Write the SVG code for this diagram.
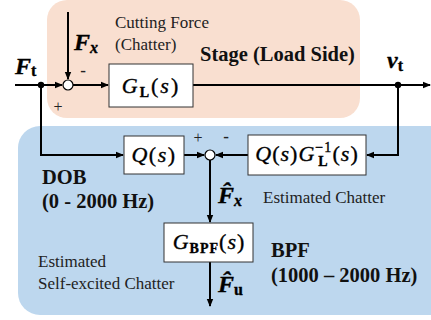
<svg xmlns="http://www.w3.org/2000/svg" width="431" height="320" viewBox="0 0 431 320">
<style>
text{font-family:'Liberation Serif','Times New Roman','DejaVu Serif',serif}
.ln{fill:none;stroke:#000;stroke-width:2}
.box{fill:#fff;stroke:#333;stroke-width:1}
.t{fill:#222}
.b{font-weight:bold;fill:#111}
.m{fill:#000;stroke:#000;stroke-width:0.35}
.i{font-style:italic}
.sub{font-weight:bold;font-style:normal}
</style>
<defs>
<marker id="ah" markerWidth="8" markerHeight="8" refX="7" refY="4" orient="auto" markerUnits="userSpaceOnUse">
<path d="M0,0.8 L8,4 L0,7.2 Z" fill="#000"/>
</marker>
</defs>
<rect x="47" y="0" width="313" height="118" rx="20" fill="#F9DFD0"/>
<rect x="18" y="126" width="435" height="189" rx="22" fill="#BDD7EE"/>
<g id="connectors">
<path class="ln" d="M15,85 H62" marker-end="url(#ah)"/>
<path class="ln" d="M68,12 V79" marker-end="url(#ah)"/>
<path class="ln" d="M73,85 H108" marker-end="url(#ah)"/>
<path class="ln" d="M193,85 H430" marker-end="url(#ah)"/>
<path class="ln" d="M41,85 V155 H123" marker-end="url(#ah)"/>
<path class="ln" d="M398,85 V155 H367" marker-end="url(#ah)"/>
<path class="ln" d="M184,155 H204" marker-end="url(#ah)"/>
<path class="ln" d="M248,155 H216" marker-end="url(#ah)"/>
<path class="ln" d="M210,160 V222" marker-end="url(#ah)"/>
<path class="ln" d="M210,262 V306" marker-end="url(#ah)"/>
<circle cx="41" cy="85" r="3.2" fill="#000"/>
<circle cx="398" cy="85" r="3.2" fill="#000"/>
</g>
<g id="sum1">
<circle cx="68" cy="85" r="5" fill="#fff" stroke="#000" stroke-width="1.2"/>
<text class="t" x="83" y="76" font-size="17" font-weight="bold" text-anchor="middle">-</text>
<text class="t" x="58" y="112" font-size="16" text-anchor="middle">+</text>
</g>
<g id="sum2">
<circle cx="210" cy="155" r="5" fill="#fff" stroke="#000" stroke-width="1.2"/>
<text class="t" x="198" y="143" font-size="16" text-anchor="middle">+</text>
<text class="t" x="226" y="142" font-size="17" font-weight="bold" text-anchor="middle">-</text>
</g>
<g id="GL">
<rect class="box" x="109" y="64" width="84" height="43"/>
<text class="m" x="151" y="93" font-size="22" text-anchor="middle" letter-spacing="2"><tspan class="i">G</tspan><tspan class="sub" font-size="14" dy="4">L</tspan><tspan dy="-4">(</tspan><tspan class="i">s</tspan>)</text>
</g>
<g id="Q">
<rect class="box" x="124" y="136" width="60" height="38"/>
<text class="m" x="154" y="162" font-size="22" text-anchor="middle" letter-spacing="1.5"><tspan class="i">Q</tspan>(<tspan class="i">s</tspan>)</text>
</g>
<g id="QGinv">
<rect class="box" x="248" y="135" width="118" height="40"/>
<text class="m" x="307" y="161" font-size="22" text-anchor="middle" letter-spacing="1"><tspan class="i">Q</tspan>(<tspan class="i">s</tspan>)<tspan class="i">G</tspan><tspan font-size="14" dy="-9">−1</tspan><tspan class="sub" font-size="14" dx="-14" dy="14">L</tspan><tspan dy="-5" dx="4">(</tspan><tspan class="i">s</tspan>)</text>
</g>
<g id="GBPF">
<rect class="box" x="164" y="223" width="89" height="39"/>
<text class="m" x="209" y="249" font-size="22" text-anchor="middle" letter-spacing="1"><tspan class="i">G</tspan><tspan class="sub" font-size="14" dy="4">BPF</tspan><tspan dy="-4">(</tspan><tspan class="i">s</tspan>)</text>
</g>
<g id="labels">
<text class="m" x="15" y="74" font-size="24"><tspan class="i" font-weight="bold">F</tspan><tspan class="sub" font-size="16" dy="2">t</tspan></text>
<text class="m" x="74" y="50" font-size="24"><tspan class="i" font-weight="bold">F</tspan><tspan class="i" font-weight="bold" font-size="16" dy="3">x</tspan></text>
<text class="m" x="387" y="68" font-size="24"><tspan class="i" font-weight="bold">v</tspan><tspan class="sub" font-size="16" dy="3">t</tspan></text>
<text class="m" x="218" y="203" font-size="24"><tspan class="i" font-weight="bold">F̂</tspan><tspan class="i" font-weight="bold" font-size="16" dy="3">x</tspan></text>
<text class="m" x="218" y="292" font-size="24"><tspan class="i" font-weight="bold">F̂</tspan><tspan class="sub" font-size="16" dy="3">u</tspan></text>
<text class="t" x="115" y="28" font-size="17">Cutting Force</text>
<text class="t" x="115" y="50" font-size="17">(Chatter)</text>
<text class="b" x="200" y="61" font-size="20.5">Stage (Load Side)</text>
<text class="b" x="42" y="184" font-size="20.5">DOB</text>
<text class="b" x="42" y="208" font-size="20.5">(0 - 2000 Hz)</text>
<text class="t" x="263" y="203" font-size="17">Estimated Chatter</text>
<text class="b" x="271" y="257" font-size="20.5">BPF</text>
<text class="b" x="271" y="282" font-size="20.5">(1000 – 2000 Hz)</text>
<text class="t" x="38" y="267" font-size="17">Estimated</text>
<text class="t" x="38" y="289" font-size="17">Self-excited Chatter</text>
</g>
</svg>
